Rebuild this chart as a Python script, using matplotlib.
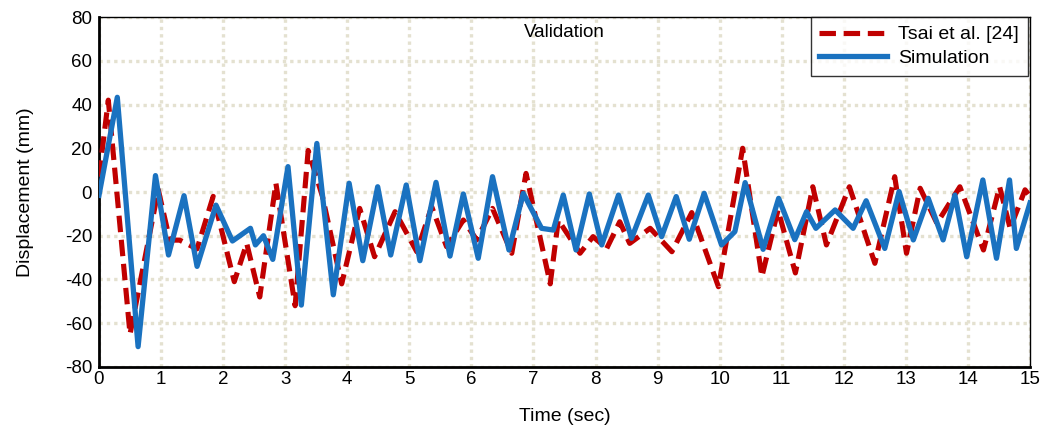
import numpy as np
import matplotlib.pyplot as plt

plt.rcParams['font.family'] = ['Liberation Sans', 'DejaVu Sans']
plt.rcParams['axes.unicode_minus'] = False

# Tsai et al. [24] reference response (time in s, displacement in mm)
t_tsai = [0.0, 0.15, 0.50, 0.955, 1.14, 1.30, 1.58, 1.84, 2.18, 2.38, 2.59, 2.85,
          3.16, 3.37, 3.60, 3.91, 4.20, 4.44, 4.77, 5.12, 5.36, 5.60, 5.87, 6.085,
          6.34, 6.65, 6.88, 7.27, 7.40, 7.75, 7.96, 8.18, 8.39, 8.55, 8.88, 9.23,
          9.55, 9.98, 10.37, 10.68, 10.94, 11.22, 11.50, 11.72, 12.09, 12.50,
          12.82, 13.01, 13.23, 13.50, 13.87, 14.25, 14.51, 14.68, 14.92, 15.0]
d_tsai = [7, 42, -65, 1, -22, -22, -26, -2, -41, -23.5, -48, 4,
          -52, 19, -2, -42, -7.5, -29.6, -9, -27.3, -6.7, -25, -12.8, -21.9,
          -7.5, -28, 8.5, -42, -12.8, -28, -20.4, -25.8, -13.6, -23.5, -16.6, -27.3,
          -9.4, -43.3, 20, -38.7, -8.2, -37, 2.4, -24.2, 2.4, -32.6,
          7, -28, 1.7, -14.3, 2.4, -26.5, 2.4, -16.6, 1, -2]

# simulated response
t_sim = [0.0, 0.295, 0.63, 0.91, 1.12, 1.37, 1.58, 1.885, 2.15, 2.44, 2.52, 2.65,
         2.80, 3.045, 3.26, 3.51, 3.775, 4.03, 4.25, 4.49, 4.70, 4.95, 5.17, 5.43,
         5.655, 5.87, 6.11, 6.34, 6.605, 6.835, 7.13, 7.32, 7.48, 7.685, 7.90, 8.10,
         8.37, 8.58, 8.85, 9.065, 9.30, 9.51, 9.75, 10.03, 10.245, 10.41, 10.70,
         10.95, 11.21, 11.40, 11.55, 11.86, 12.15, 12.36, 12.66, 12.89, 13.12,
         13.36, 13.60, 13.79, 13.98, 14.24, 14.46, 14.67, 14.78, 15.0]
d_sim = [-1.5, 43.3, -70.7, 7.5, -28.8, -1.7, -34, -6, -22.4, -16.6, -24.2, -20,
         -30.8, 11.6, -51.7, 22.2, -47, 4, -31.4, 2.4, -28.8, 3.2, -31.4, 4.4,
         -29.3, -0.9, -30.3, 7, -26.5, -0.6, -16.6, -17.4, -1.4, -26.5, -0.9, -24.2,
         -1.4, -21.2, -1.4, -20.4, -2.1, -21.6, -0.6, -24.2, -18.1, 4.3, -26.2,
         -2.9, -21.8, -9, -16.6, -8.2, -16.6, -4, -25.8, 0.2, -21.9,
         -2.9, -21.9, -1.4, -29.6, 5.5, -30.3, 5.5, -25.8, -5]

fig = plt.figure(figsize=(10.42, 4.32), dpi=100)
ax = fig.add_axes([0.095, 0.1505, 0.8935, 0.8101])

ax.plot(t_tsai, d_tsai, color='#C00000', lw=3.7, ls=(0, (3.2, 1.5)),
        label='Tsai et al. [24]', zorder=3)
ax.plot(t_sim, d_sim, color='#1A72C0', lw=3.8, label='Simulation', zorder=4)

ax.set_xlim(0, 15)
ax.set_ylim(-80, 80)
ax.set_xticks(np.arange(0, 16, 1))
ax.set_yticks(np.arange(-80, 81, 20))
ax.grid(True, color='#E4E1D0', ls=(0, (1, 1.2)), lw=2.4)
ax.tick_params(length=0, labelsize=13.5)
ax.tick_params(axis='x', pad=3)
ax.tick_params(axis='y', pad=5)

for side in ['left', 'bottom']:
    ax.spines[side].set_linewidth(2)
for side in ['top', 'right']:
    ax.spines[side].set_linewidth(1)

ax.set_xlabel('Time (sec)', fontsize=14, labelpad=14)
ax.set_ylabel('Displacement (mm)', fontsize=14, labelpad=22)
ax.text(0.5, 0.955, 'Validation', transform=ax.transAxes, ha='center',
        va='center', fontsize=13.5)

leg = ax.legend(loc='upper right', fontsize=14, frameon=True, fancybox=False,
                bbox_to_anchor=(0.9975, 1.0), borderaxespad=0.0,
                handlelength=3.45, borderpad=0.45, labelspacing=0.3,
                handletextpad=0.6)
leg.get_frame().set_edgecolor('black')
leg.get_frame().set_linewidth(1)

fig.savefig('out.png', dpi=100)
